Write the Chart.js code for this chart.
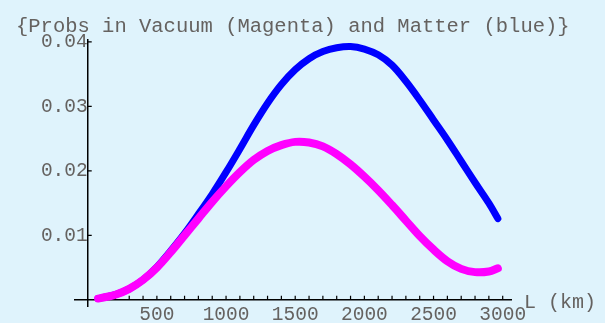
<!DOCTYPE html>
<html>
<head>
<meta charset="utf-8">
<title>Probs in Vacuum and Matter</title>
<script src="https://cdn.jsdelivr.net/npm/chart.js@4/dist/chart.umd.min.js"></script>
<style>
    body {
        margin: 0;
        background: #dff3fc;
    }
    #wrap {
        position: relative;
        width: 605px;
        height: 323px;
    }
    .label {
        position: absolute;
        font-family: 'Liberation Mono', 'DejaVu Sans Mono', monospace;
        font-size: 20.5px;
        line-height: 20px;
        color: #656260;
        white-space: pre;
    }
    #title { left: 16px; top: 17px; }
    #xLabel { left: 524px; top: 293px; font-size: 20px; }
</style>
</head>
<body>
<div id="wrap">
    <canvas id="probChart" width="605" height="323"></canvas>
    <div class="label" id="title">{Probs in Vacuum (Magenta) and Matter (blue)}</div>
    <div class="label" id="xLabel">L (km)</div>
</div>
<script>
// baseline L in km
const distanceKm = [75, 100, 200, 300, 400, 500, 600, 700, 800, 900, 1000,
    1100, 1200, 1300, 1400, 1500, 1600, 1700, 1800, 1900, 2000,
    2100, 2200, 2300, 2400, 2500, 2600, 2700, 2800, 2900, 2965];

// vacuum oscillation probability (magenta)
const vacuumProb = [0.0002, 0.0003, 0.0008, 0.0017, 0.0031, 0.0050, 0.0074, 0.0100, 0.0126, 0.0152, 0.0176,
    0.0198, 0.0217, 0.0231, 0.0240, 0.0245, 0.0244, 0.0238, 0.0226, 0.0210, 0.0191,
    0.0170, 0.0147, 0.0123, 0.0099, 0.0078, 0.0060, 0.0048, 0.0043, 0.0044, 0.0049];

// matter oscillation probability (blue)
const matterProb = [0.0002, 0.0003, 0.0008, 0.0017, 0.0031, 0.0051, 0.0076, 0.0103, 0.0133, 0.0164, 0.0198,
    0.0234, 0.0271, 0.0305, 0.0334, 0.0357, 0.0374, 0.0385, 0.0391, 0.0393, 0.0389,
    0.0380, 0.0364, 0.0339, 0.0310, 0.0279, 0.0248, 0.0215, 0.0182, 0.0150, 0.0126];

const xTickValues = [500, 1000, 1500, 2000, 2500, 3000];
const yTickValues = [0.01, 0.02, 0.03, 0.04];

const tickFont = { family: "'Liberation Mono', monospace", size: 19.5 };
const labelColor = '#656260';

// Mathematica style: short tick marks pointing into the plot
const innerTicks = {
    id: 'innerTicks',
    beforeDatasetsDraw(chart) {
        const ctx = chart.ctx;
        const x = chart.scales.x;
        const y = chart.scales.y;
        const x0 = x.getPixelForValue(0);
        const y0 = y.getPixelForValue(0);
        ctx.save();
        ctx.strokeStyle = '#000';
        ctx.lineWidth = 1.2;
        ctx.beginPath();
        for (let v = 100; v <= 3000; v += 100) {
            const px = x.getPixelForValue(v);
            ctx.moveTo(px, y0);
            ctx.lineTo(px, y0 - 4);
        }
        yTickValues.forEach(v => {
            const py = y.getPixelForValue(v);
            ctx.moveTo(x0, py);
            ctx.lineTo(x0 + 4, py);
        });
        ctx.stroke();
        ctx.restore();
    }
};

const ctx = document.getElementById('probChart').getContext('2d');
new Chart(ctx, {
    type: 'line',
    data: {
        labels: distanceKm,
        datasets: [{
            label: 'Vacuum',
            data: distanceKm.map((d, i) => ({ x: d, y: vacuumProb[i] })),
            borderColor: '#ff00ff',
            borderWidth: 8,
            borderCapStyle: 'round',
            borderJoinStyle: 'round',
            tension: 0.35,
            pointRadius: 0,
            fill: false,
        }, {
            label: 'Matter',
            data: distanceKm.map((d, i) => ({ x: d, y: matterProb[i] })),
            borderColor: '#0000ff',
            borderWidth: 7,
            borderCapStyle: 'round',
            borderJoinStyle: 'round',
            tension: 0.35,
            pointRadius: 0,
            fill: false,
        }],
    },
    options: {
        responsive: false,
        animation: false,
        layout: {
            padding: { left: 75, right: 94, top: 40, bottom: 14 },
        },
        scales: {
            x: {
                type: 'linear',
                position: { y: 0 },
                min: -92,
                max: 3060,
                afterBuildTicks: scale => {
                    scale.ticks = xTickValues.map(v => ({ value: v }));
                },
                grid: { drawOnChartArea: false, drawTicks: false },
                border: { color: '#000', width: 1.5 },
                ticks: {
                    font: tickFont,
                    color: labelColor,
                    padding: 3,
                    maxRotation: 0,
                    autoSkip: false,
                    callback: value => String(value),
                },
            },
            y: {
                type: 'linear',
                position: { x: 0 },
                min: -0.001,
                max: 0.0403,
                afterBuildTicks: scale => {
                    scale.ticks = yTickValues.map(v => ({ value: v }));
                },
                grid: { drawOnChartArea: false, drawTicks: false },
                border: { color: '#000', width: 1.5 },
                ticks: {
                    font: tickFont,
                    color: labelColor,
                    padding: 5,
                    callback: value => value.toFixed(2),
                },
            },
        },
        plugins: {
            legend: { display: false },
            tooltip: { enabled: false },
        },
    },
    plugins: [innerTicks],
});
</script>
</body>
</html>
